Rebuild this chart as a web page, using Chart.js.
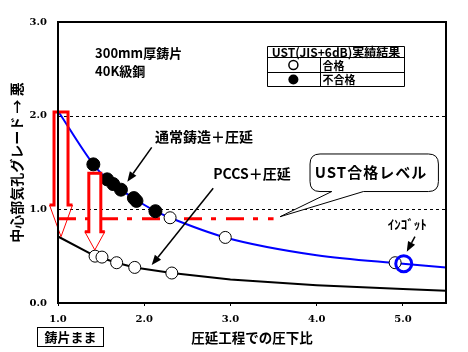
<!DOCTYPE html>
<html><head><meta charset="utf-8">
<script src="https://cdn.jsdelivr.net/npm/chart.js@4"></script>
<style>html,body{margin:0;padding:0;background:#fff}canvas{display:block}</style>
</head><body>
<canvas id="c" width="468" height="352"></canvas>
<script>
// ---- data ----
const xTickLabels = ['1.0','2.0','3.0','4.0','5.0'];
const yTickLabels = ['0.0','1.0','2.0','3.0'];
// 通常鋳造＋圧延
const convX = [1.0, 1.41, 1.57, 1.73, 1.89, 2.13, 2.30, 2.94, 4.0, 5.0, 5.5];
const convY = [2.05, 1.48, 1.32, 1.21, 1.11, 0.98, 0.91, 0.70, 0.51, 0.42, 0.38];
// PCCS＋圧延
const pccsX = [1.0, 1.43, 1.51, 1.68, 1.89, 2.32, 3.0, 4.0, 5.0, 5.5];
const pccsY = [0.71, 0.50, 0.48, 0.43, 0.38, 0.32, 0.25, 0.19, 0.15, 0.13];
// UST合格レベル
const ustX = [1.0, 3.5];
const ustY = [0.9, 0.9];
// UST 不合格
const failX = [1.41, 1.57, 1.64, 1.73, 1.88, 1.91, 2.13];
const failY = [1.48, 1.32, 1.27, 1.21, 1.12, 1.09, 0.98];
// UST 合格
const passX = [2.30, 2.94, 4.91, 1.43, 1.51, 1.68, 1.89, 2.32];
const passY = [0.91, 0.70, 0.43, 0.50, 0.49, 0.43, 0.38, 0.32];
// インゴット
const ingotX = [5.01];
const ingotY = [0.42];

const pts = (xs, ys) => xs.map((x, i) => ({x, y: ys[i]}));

// ---- annotation layout (data units) ----
const redArrows = [
  {x:1.035, top:2.04, neck:1.046, tip:0.708, shaft:7, head:11.5},
  {x:1.427, top:1.385, neck:0.761, tip:0.566, shaft:6, head:10}
];
const blackArrows = [
  {from:[2.087,1.662], to:[1.804,1.295]},
  {from:[2.80,1.225], to:[2.087,0.406]},
  {from:[5.14,0.708], to:[5.045,0.548]}
];
const texts = [
  {t:'300mm厚鋳片', x:1.43, y:2.672, size:13, align:'left'},
  {t:'40K級鋼', x:1.43, y:2.48, size:13, align:'left'},
  {t:'通常鋳造＋圧延', x:2.125, y:1.775, size:14, align:'left'},
  {t:'PCCS＋圧延', x:2.80, y:1.385, size:14, align:'left'},
  {t:'ｲﾝｺﾞｯﾄ', x:5.05, y:0.843, size:13, align:'center'}
];
const JP = "'Noto Sans CJK JP', sans-serif";

const annotPlugin = {
  id: 'annot',
  beforeDatasetsDraw(chart) {
    const {ctx, chartArea: a, scales: {x: xs, y: ys}} = chart;
    ctx.save();
    ctx.strokeStyle = '#000'; ctx.lineWidth = 1; ctx.setLineDash([3,3]);
    [1, 2].forEach(v => {
      const yy = Math.round(ys.getPixelForValue(v)) + 0.5;
      ctx.beginPath(); ctx.moveTo(a.left, yy); ctx.lineTo(a.right, yy); ctx.stroke();
    });
    ctx.restore();
  },
  afterDatasetsDraw(chart) {
    const {ctx, chartArea: a, scales: {x: xs, y: ys}} = chart;
    const X = v => xs.getPixelForValue(v), Y = v => ys.getPixelForValue(v);
    ctx.save();
    ctx.strokeStyle = '#ff0000';
    redArrows.forEach(r => {
      const cx = X(r.x), t = Y(r.top), n = Y(r.neck), p = Y(r.tip);
      ctx.lineWidth = 3; ctx.lineJoin = 'miter';
      ctx.beginPath();
      ctx.moveTo(cx - r.head, n); ctx.lineTo(cx - r.shaft, n); ctx.lineTo(cx - r.shaft, t);
      ctx.lineTo(cx + r.shaft, t); ctx.lineTo(cx + r.shaft, n); ctx.lineTo(cx + r.head, n);
      ctx.stroke();
      ctx.lineWidth = 1;
      ctx.beginPath();
      ctx.moveTo(cx - r.head, n); ctx.lineTo(cx, p); ctx.lineTo(cx + r.head, n);
      ctx.stroke();
    });
    ctx.strokeStyle = '#000'; ctx.lineWidth = 2;
    ctx.strokeRect(a.left, a.top, a.right - a.left, a.bottom - a.top);
    ctx.restore();
  },
  afterDraw(chart) {
    const {ctx, scales: {x: xs, y: ys}} = chart;
    const X = v => xs.getPixelForValue(v), Y = v => ys.getPixelForValue(v);
    ctx.save();
    ctx.fillStyle = '#000'; ctx.strokeStyle = '#000';
    blackArrows.forEach(b => {
      const x1 = X(b.from[0]), y1 = Y(b.from[1]), x2 = X(b.to[0]), y2 = Y(b.to[1]);
      const ang = Math.atan2(y2 - y1, x2 - x1), L = 10, W = 4;
      const bx = x2 - L * Math.cos(ang), by = y2 - L * Math.sin(ang);
      ctx.lineWidth = 1.5;
      ctx.beginPath(); ctx.moveTo(x1, y1); ctx.lineTo(bx, by); ctx.stroke();
      ctx.beginPath();
      ctx.moveTo(x2, y2);
      ctx.lineTo(bx + W * Math.sin(ang), by - W * Math.cos(ang));
      ctx.lineTo(bx - W * Math.sin(ang), by + W * Math.cos(ang));
      ctx.closePath(); ctx.fill();
    });
    ctx.textBaseline = 'middle';
    texts.forEach(s => {
      ctx.font = 'bold ' + s.size + 'px ' + JP;
      ctx.textAlign = s.align;
      ctx.fillText(s.t, X(s.x), Y(s.y));
    });
    {
      const L = X(3.923), R = X(5.412), T = Y(1.591), B = Y(1.19), r = 10;
      const t1 = X(4.175), t2 = X(4.542), tx = X(3.575), ty = Y(0.921);
      ctx.lineWidth = 1;
      ctx.beginPath();
      ctx.moveTo(L + r, T); ctx.lineTo(R - r, T); ctx.quadraticCurveTo(R, T, R, T + r);
      ctx.lineTo(R, B - r); ctx.quadraticCurveTo(R, B, R - r, B);
      ctx.lineTo(t2, B); ctx.lineTo(tx, ty); ctx.lineTo(t1, B);
      ctx.lineTo(L + r, B); ctx.quadraticCurveTo(L, B, L, B - r);
      ctx.lineTo(L, T + r); ctx.quadraticCurveTo(L, T, L + r, T);
      ctx.closePath();
      ctx.fillStyle = '#fff'; ctx.fill(); ctx.stroke();
      ctx.fillStyle = '#000';
      ctx.font = 'bold 15px ' + JP; ctx.textAlign = 'center';
      try { ctx.letterSpacing = '1px'; } catch(e) {}
      ctx.fillText('UST合格レベル', X(4.63), Y(1.391));
      try { ctx.letterSpacing = '0px'; } catch(e) {}
    }
    {
      const xl = Math.round(X(3.428)) + 0.5, xm = Math.round(X(4.039)) + 0.5, xr = Math.round(X(5.014)) + 0.5;
      const rows = [2.747, 2.621, 2.471, 2.317].map(v => Math.round(Y(v)) + 0.5);
      ctx.lineWidth = 1;
      ctx.beginPath();
      rows.forEach(yy => { ctx.moveTo(xl, yy); ctx.lineTo(xr, yy); });
      ctx.moveTo(xl, rows[0]); ctx.lineTo(xl, rows[3]);
      ctx.moveTo(xr, rows[0]); ctx.lineTo(xr, rows[3]);
      ctx.moveTo(xm, rows[1]); ctx.lineTo(xm, rows[3]);
      ctx.stroke();
      ctx.font = 'bold 12px ' + JP; ctx.textAlign = 'center';
      ctx.fillText('UST(JIS+6dB)実績結果', (xl + xr) / 2, (rows[0] + rows[1]) / 2 + 0.5);
      ctx.font = 'bold 11px ' + JP; ctx.textAlign = 'left';
      ctx.fillText('合格', xm + 2, (rows[1] + rows[2]) / 2 + 0.5);
      ctx.fillText('不合格', xm + 2, (rows[2] + rows[3]) / 2 + 0.5);
      const sx = X(3.73);
      ctx.beginPath(); ctx.arc(sx, (rows[1] + rows[2]) / 2, 4.5, 0, Math.PI * 2);
      ctx.lineWidth = 1.5; ctx.stroke();
      ctx.beginPath(); ctx.arc(sx, (rows[2] + rows[3]) / 2, 5, 0, Math.PI * 2); ctx.fill();
    }
    {
      const L = Math.round(X(0.753)) + 0.5, R = Math.round(X(1.526)) + 0.5;
      const T = Math.round(Y(-0.253)) + 0.5, B = Math.round(Y(-0.459)) + 0.5;
      ctx.lineWidth = 1; ctx.strokeRect(L, T, R - L, B - T);
      ctx.font = 'bold 13px ' + JP; ctx.textAlign = 'center';
      ctx.fillText('鋳片まま', (L + R) / 2, (T + B) / 2 + 0.5);
    }
    ctx.restore();
  }
};

new Chart(document.getElementById('c'), {
  type: 'scatter',
  data: {
    datasets: [
      {label:'インゴット', data: pts(ingotX, ingotY), pointRadius: 8, pointBackgroundColor: 'rgba(0,0,0,0)',
       pointBorderColor: '#0000ff', pointBorderWidth: 3, order: 0},
      {label:'合格', data: pts(passX, passY), pointRadius: 6, pointBackgroundColor: '#fff',
       pointBorderColor: '#000', pointBorderWidth: 1, order: 1},
      {label:'不合格', data: pts(failX, failY), pointRadius: 6.5, pointBackgroundColor: '#000',
       pointBorderColor: '#000', pointBorderWidth: 1, order: 2},
      {label:'UST合格レベル', data: pts(ustX, ustY), showLine: true, pointRadius: 0, borderColor: '#ff0000',
       borderWidth: 3, borderDash: [18, 9, 5, 10], borderCapStyle: 'butt', order: 3},
      {label:'通常鋳造＋圧延', data: pts(convX, convY), showLine: true, pointRadius: 0, borderColor: '#0000ff',
       borderWidth: 2, cubicInterpolationMode: 'monotone', order: 4},
      {label:'PCCS＋圧延', data: pts(pccsX, pccsY), showLine: true, pointRadius: 0, borderColor: '#000',
       borderWidth: 2, tension: 0, order: 5}
    ]
  },
  options: {
    responsive: false, animation: false, devicePixelRatio: 1,
    layout: {padding: {top: 22, right: 22, left: 0, bottom: 0}},
    plugins: {legend: {display: false}, tooltip: {enabled: false}},
    scales: {
      x: {
        type: 'linear', min: 1, max: 5.5,
        afterFit(s) { s.height = 49; },
        ticks: {stepSize: 1, includeBounds: false, padding: 7, color: '#000',
          font: {family: 'DejaVu Serif', weight: 'bold', size: 10},
          callback: (v, i) => xTickLabels[i]},
        grid: {drawOnChartArea: false, drawTicks: true, tickLength: 3, color: '#000'},
        border: {display: false},
        title: {display: true, text: '圧延工程での圧下比', color: '#000',
          font: {family: JP, weight: 'bold', size: 13.5}, padding: {top: 6, bottom: 6}}
      },
      y: {
        type: 'linear', min: 0, max: 3,
        afterFit(s) { s.width = 58; },
        ticks: {stepSize: 1, padding: 11, color: '#000',
          font: {family: 'DejaVu Serif', weight: 'bold', size: 10},
          callback: (v, i) => yTickLabels[i]},
        grid: {display: true, drawOnChartArea: false, drawTicks: false, tickLength: 0},
        border: {display: false},
        title: {display: true, text: '中心部気孔グレード → 悪', color: '#000',
          font: {family: JP, weight: 'bold', size: 14}, padding: {top: 8, bottom: 8}}
      }
    }
  },
  plugins: [annotPlugin]
});
</script>
</body></html>
